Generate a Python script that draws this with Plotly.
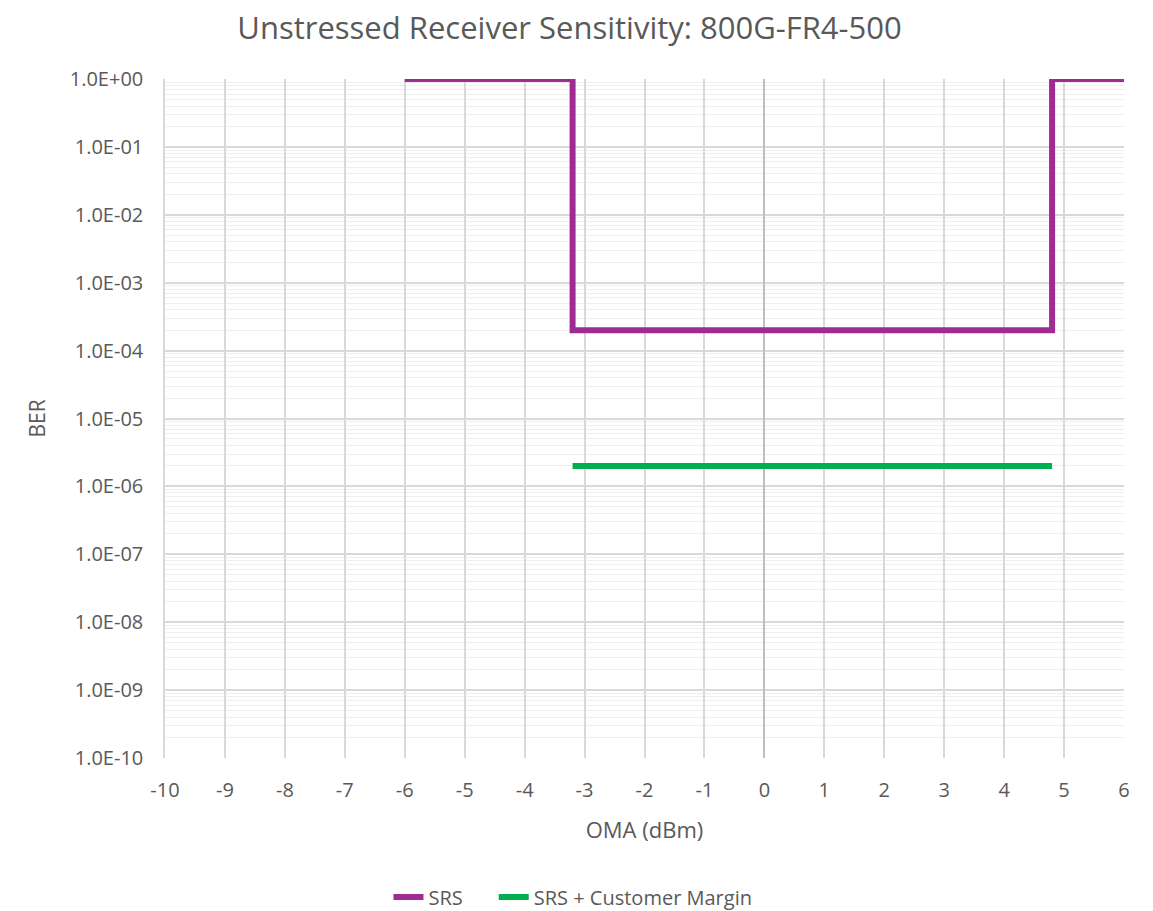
import plotly.graph_objects as go

# SRS mask (step shape)
srs_x = [-6, -3.2, -3.2, 4.8, 4.8, 6]
srs_y = [1.0, 1.0, 2e-4, 2e-4, 1.0, 1.0]

# SRS + customer margin
margin_x = [-3.2, 4.8]
margin_y = [2e-6, 2e-6]

x_ticks = list(range(-10, 7))
x_labels = [str(v) for v in x_ticks]  # plain hyphen like Excel
y_exps = list(range(-10, 1))
y_ticks = [10.0 ** e for e in y_exps]
y_labels = ["1.0E%+03d" % e for e in y_exps]
y_minor = [k * 10.0 ** e for e in range(-10, 0) for k in range(2, 10)]

font = "Open Sans"
grey = "#595959"
pad = "\u00a0" * 5  # extra room between legend entries

fig = go.Figure()
fig.add_trace(go.Scatter(
    x=srs_x, y=srs_y, mode="lines", name="SRS" + pad,
    line=dict(color="#A02B93", width=6),
))
fig.add_trace(go.Scatter(
    x=margin_x, y=margin_y, mode="lines", name="SRS + Customer Margin",
    line=dict(color="#00B050", width=6),
))

# page body adds an 8px offset, margins are set to compensate
fig.update_layout(
    width=1153,
    height=911,
    paper_bgcolor="white",
    plot_bgcolor="white",
    margin=dict(l=157, r=37, t=71, b=161),
    font=dict(family=font, color=grey, size=20),
    title=dict(
        text="Unstressed Receiver Sensitivity: 800G-FR4-500",
        x=0.487, xref="container", xanchor="center",
        y=1 - 20 / 911, yref="container", yanchor="middle",
        font=dict(size=31, color=grey),
    ),
    legend=dict(
        orientation="h", x=0.49, xref="container", xanchor="center",
        y=1 - 889 / 911, yref="container", yanchor="middle",
        font=dict(size=20, color=grey),
    ),
    showlegend=True,
)

fig.update_xaxes(
    range=[-10, 6],
    tickvals=x_ticks,
    ticktext=x_labels,
    ticks="",
    showgrid=True, gridcolor="#d9d9d9", gridwidth=1.5,
    zeroline=True, zerolinecolor="#bfbfbf", zerolinewidth=1.5,
    showline=False,
    title=dict(text="OMA (dBm)", standoff=20, font=dict(size=22)),
    ticklabelstandoff=18,
)

fig.update_yaxes(
    type="log",
    range=[-10, 0],
    tickvals=y_ticks,
    ticktext=y_labels,
    ticks="",
    showgrid=True, gridcolor="#d9d9d9", gridwidth=1.5,
    minor=dict(tickvals=y_minor, showgrid=True, gridcolor="#efefef", gridwidth=1, ticks=""),
    showline=True, linecolor="#d9d9d9", linewidth=1.5, mirror=False,
    zeroline=False,
    title=dict(text="BER", standoff=18, font=dict(size=21)),
    ticklabelstandoff=16,
)

fig.write_html("out.html")
